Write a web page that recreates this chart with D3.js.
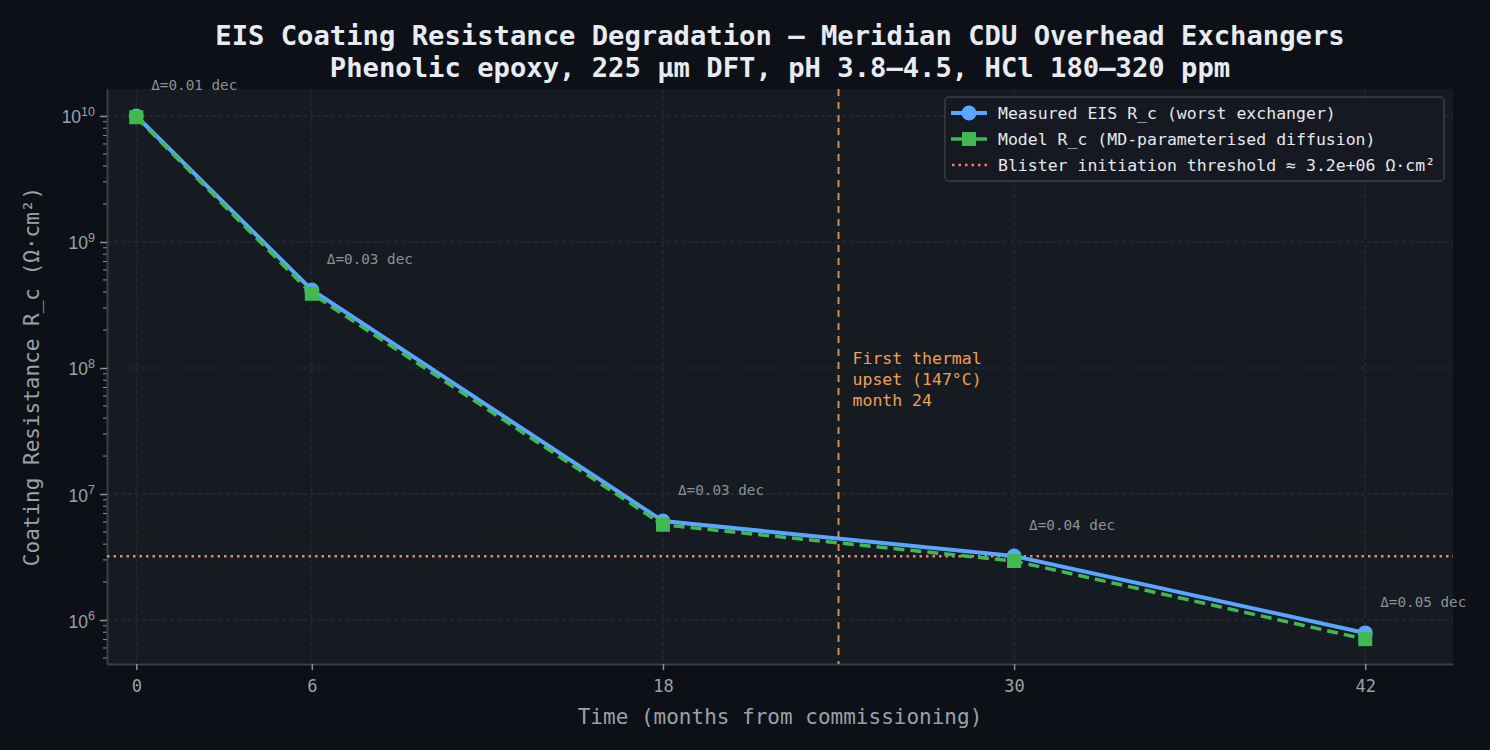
<!DOCTYPE html>
<html>
<head>
<meta charset="UTF-8">
<title>EIS Coating Resistance Degradation</title>
<script src="https://cdn.jsdelivr.net/npm/d3@7"></script>
<style>
  html, body { margin: 0; padding: 0; background: #0d1017; }
  svg { display: block; font-family: "DejaVu Sans Mono", monospace; }
</style>
</head>
<body>
<svg id="chart"></svg>
<script>
// data
var months = [0, 6, 18, 30, 42];
var measured = [1.0e10, 4.16e8, 6.1e6, 3.22e6, 7.9e5];
var model = [9.77e9, 3.88e8, 5.7e6, 2.94e6, 7.05e5];
var deltaLabels = ["Δ=0.01 dec", "Δ=0.03 dec", "Δ=0.03 dec", "Δ=0.04 dec", "Δ=0.05 dec"];
var xTicks = [0, 6, 18, 30, 42];
var yTicks = [1e6, 1e7, 1e8, 1e9, 1e10];
var threshold = 3.2e6;
var upsetMonth = 24;
var upsetText = ["First thermal", "upset (147°C)", "month 24"];
var legendLabels = [
  "Measured EIS R_c (worst exchanger)",
  "Model R_c (MD-parameterised diffusion)",
  "Blister initiation threshold ≈ 3.2e+06 Ω·cm²"
];

var width = 1490, height = 750;
var margin = {top: 89, right: 37, bottom: 86, left: 107};
var innerW = width - margin.left - margin.right;
var innerH = height - margin.top - margin.bottom;

var svg = d3.select("#chart").attr("width", width).attr("height", height);
svg.append("rect").attr("width", width).attr("height", height).attr("fill", "#0d1017");

var g = svg.append("g").attr("transform", "translate(" + margin.left + "," + margin.top + ")");

var x = d3.scaleLinear().domain([-1, 45]).range([0, innerW]);
var y = d3.scaleLog().domain([Math.pow(10, 5.651), Math.pow(10, 10.214)]).range([innerH, 0]);

// plot background
g.append("rect").attr("width", innerW).attr("height", innerH).attr("fill", "#161a21");

// grid
g.selectAll("line.gx").data(xTicks).enter().append("line")
  .attr("x1", function(d){ return x(d); }).attr("x2", function(d){ return x(d); })
  .attr("y1", 0).attr("y2", innerH)
  .attr("stroke", "#2c313a").attr("stroke-width", 1).attr("stroke-dasharray", "4,3");
g.selectAll("line.gy").data(yTicks).enter().append("line")
  .attr("x1", 0).attr("x2", innerW)
  .attr("y1", function(d){ return y(d); }).attr("y2", function(d){ return y(d); })
  .attr("stroke", "#2c313a").attr("stroke-width", 1).attr("stroke-dasharray", "4,3");

// axes
var xAxis = d3.axisBottom(x).tickValues(xTicks).tickSize(6).tickSizeOuter(0).tickPadding(10);
var gx = g.append("g").attr("transform", "translate(0," + innerH + ")").call(xAxis);
gx.select(".domain").attr("stroke", "#3a3f48").attr("stroke-width", 2);
gx.selectAll(".tick line").attr("stroke", "#8b9099").attr("stroke-width", 1.5);
gx.selectAll(".tick text").attr("fill", "#9ba1aa").attr("font-size", "17px")
  .attr("font-family", "DejaVu Sans Mono");

var minorTicks = [];
for (var e = 5; e <= 10; e++) {
  for (var m = 2; m <= 9; m++) {
    var v = m * Math.pow(10, e);
    if (v > y.domain()[0] && v < y.domain()[1]) minorTicks.push(v);
  }
}
g.selectAll("line.minor").data(minorTicks).enter().append("line")
  .attr("x1", -4).attr("x2", 0)
  .attr("y1", function(d){ return y(d); }).attr("y2", function(d){ return y(d); })
  .attr("stroke", "#8b9099").attr("stroke-width", 1);

var yAxis = d3.axisLeft(y).tickValues(yTicks).tickSize(7).tickSizeOuter(0).tickFormat("");
var gy = g.append("g").call(yAxis);
gy.select(".domain").attr("stroke", "#3a3f48").attr("stroke-width", 2);
gy.selectAll(".tick line").attr("stroke", "#8b9099").attr("stroke-width", 1.5);
gy.selectAll(".tick").each(function(d){
  var t = d3.select(this).append("text")
    .attr("x", -12).attr("dy", "0.4em").attr("text-anchor", "end")
    .attr("fill", "#9ba1aa").attr("font-size", "17.5px");
  t.append("tspan").text("10");
  t.append("tspan").attr("font-size", "12.5px").attr("dy", "-0.6em")
    .text(String(Math.round(Math.log10(d))));
});

// axis labels
svg.append("text")
  .attr("x", margin.left + innerW / 2).attr("y", 724)
  .attr("text-anchor", "middle").attr("fill", "#9ba1aa").attr("font-size", "21px")
  .text("Time (months from commissioning)");
svg.append("text")
  .attr("transform", "translate(39," + (margin.top + innerH / 2) + ") rotate(-90)")
  .attr("text-anchor", "middle").attr("fill", "#9ba1aa").attr("font-size", "21px")
  .text("Coating Resistance R_c (Ω·cm²)");

// title
svg.append("text").attr("x", 780).attr("y", 45).attr("text-anchor", "middle")
  .attr("fill", "#e8ecf2").attr("font-size", "27.2px").attr("font-weight", "bold")
  .text("EIS Coating Resistance Degradation — Meridian CDU Overhead Exchangers");
svg.append("text").attr("x", 780).attr("y", 77).attr("text-anchor", "middle")
  .attr("fill", "#e8ecf2").attr("font-size", "27.2px").attr("font-weight", "bold")
  .text("Phenolic epoxy, 225 µm DFT, pH 3.8–4.5, HCl 180–320 ppm");

// threshold line
g.append("line")
  .attr("x1", 0).attr("x2", innerW)
  .attr("y1", y(threshold)).attr("y2", y(threshold))
  .attr("stroke", "#f0845c").attr("stroke-width", 2.5).attr("stroke-dasharray", "2.5,4");

// upset line
g.append("line")
  .attr("x1", x(upsetMonth)).attr("x2", x(upsetMonth))
  .attr("y1", 0).attr("y2", innerH)
  .attr("stroke", "#d88c4c").attr("stroke-width", 2).attr("stroke-dasharray", "7,6");
var ut = g.append("text").attr("fill", "#f0a050").attr("font-size", "16.5px");
ut.selectAll("tspan").data(upsetText).enter().append("tspan")
  .attr("x", x(upsetMonth) + 14)
  .attr("y", function(d, i){ return y(1.3e8) + 10 + i * 21; })
  .text(function(d){ return d; });

// series
var line = d3.line()
  .x(function(d, i){ return x(months[i]); })
  .y(function(d){ return y(d); });

g.append("path").datum(measured).attr("d", line)
  .attr("fill", "none").attr("stroke", "#58a6ff").attr("stroke-width", 4);
g.selectAll("circle.meas").data(measured).enter().append("circle")
  .attr("cx", function(d, i){ return x(months[i]); })
  .attr("cy", function(d){ return y(d); })
  .attr("r", 7.5).attr("fill", "#58a6ff");

g.append("path").datum(model).attr("d", line)
  .attr("fill", "none").attr("stroke", "#3fb950").attr("stroke-width", 3.5)
  .attr("stroke-dasharray", "11,6");
g.selectAll("rect.mod").data(model).enter().append("rect")
  .attr("x", function(d, i){ return x(months[i]) - 7; })
  .attr("y", function(d){ return y(d) - 7; })
  .attr("width", 14).attr("height", 14).attr("fill", "#3fb950");

// delta labels
g.selectAll("text.delta").data(measured).enter().append("text")
  .attr("x", function(d, i){ return x(months[i]) + 15; })
  .attr("y", function(d){ return y(d) - 26; })
  .attr("fill", "#8b9099").attr("font-size", "14.3px")
  .text(function(d, i){ return deltaLabels[i]; });

// legend
var lg = svg.append("g").attr("transform", "translate(945,97)");
lg.append("rect").attr("width", 499).attr("height", 84).attr("rx", 4)
  .attr("fill", "#161a21").attr("fill-opacity", 0.9)
  .attr("stroke", "#3a3f48").attr("stroke-width", 1.5);
var rows = lg.selectAll("g.row").data(legendLabels).enter().append("g")
  .attr("transform", function(d, i){ return "translate(0," + (16 + i * 26) + ")"; });
rows.append("text").attr("x", 53).attr("dy", "0.35em")
  .attr("fill", "#e6e9ee").attr("font-size", "16.5px")
  .text(function(d){ return d; });
var r0 = d3.select(rows.nodes()[0]);
r0.append("line").attr("x1", 6).attr("x2", 42).attr("stroke", "#58a6ff").attr("stroke-width", 4);
r0.append("circle").attr("cx", 24).attr("r", 7.5).attr("fill", "#58a6ff");
var r1 = d3.select(rows.nodes()[1]);
r1.append("line").attr("x1", 6).attr("x2", 42).attr("stroke", "#3fb950").attr("stroke-width", 3.5);
r1.append("rect").attr("x", 17).attr("y", -7).attr("width", 14).attr("height", 14).attr("fill", "#3fb950");
var r2 = d3.select(rows.nodes()[2]);
r2.append("line").attr("x1", 7).attr("x2", 42).attr("stroke", "#f0845c").attr("stroke-width", 2.5)
  .attr("stroke-dasharray", "2.5,4");
</script>
</body>
</html>
